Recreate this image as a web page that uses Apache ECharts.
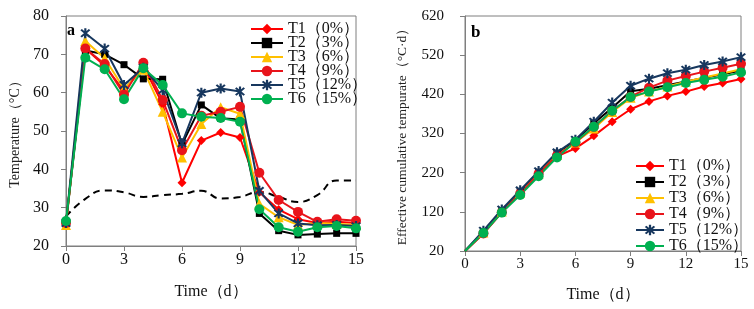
<!DOCTYPE html>
<html>
<head>
<meta charset="utf-8">
<script src="https://cdn.jsdelivr.net/npm/echarts@6/dist/echarts.min.js"></script>
<style>
  html, body { margin: 0; padding: 0; background: #fff; }
  #chart { width: 754px; height: 309px; }
</style>
</head>
<body>
<div id="chart"></div>
<script>
// days on the x axis (both panels)
const days = [0, 1, 2, 3, 4, 5, 6, 7, 8, 9, 10, 11, 12, 13, 14, 15]
const seriesNames = ['T1（0%）', 'T2（3%）', 'T3（6%）', 'T4（9%）', 'T5（12%）', 'T6（15%）']

// panel a: pile temperature (°C)
const tempT1 = [26, 71.5, 67, 60.5, 67, 57, 36.5, 47.5, 49.6, 48.3, 34, 29.5, 27, 26, 26.3, 26]
const tempT2 = [25.8, 71, 70, 67.3, 63.6, 63.5, 46.5, 56.8, 53.3, 53, 28.5, 24, 22.9, 23.1, 23.3, 23.3]
const tempT3 = [25.5, 73.5, 69, 61, 66, 55, 43.1, 51.8, 56.2, 54.5, 31, 27.5, 25.5, 26, 25.8, 25.5]
const tempT4 = [26, 71.5, 67.5, 59.5, 67.8, 58.1, 45, 54, 55, 56.3, 39.1, 32, 28.9, 26.3, 27, 26.6]
const tempT5 = [26, 75.5, 71.5, 62, 66.5, 60.7, 46.8, 60, 61.1, 60.3, 34.4, 28.5, 25.9, 25.4, 25.5, 25.2]
const tempT6 = [26.5, 69.1, 66.1, 58.3, 66.4, 62, 54.6, 53.7, 53.4, 52.4, 29.6, 24.9, 23.7, 24.9, 25.2, 24.6]
const ambient = [27.7, 32.3, 34.5, 34, 32.8, 33.3, 33.6, 34.4, 32.4, 32.8, 34.1, 32.8, 31.5, 33.3, 37.1, 37.1]

// panel b: effective cumulative temperature (°C·d)
const ectT1 = [20, 64, 119, 167, 216, 262, 282, 314, 350, 382, 402, 416, 427, 440, 449, 459]
const ectT2 = [20, 68, 123, 172, 221, 270, 302, 346, 386, 428, 434, 443, 453, 462, 471, 481]
const ectT3 = [20, 67, 121, 169, 218, 265, 297, 333, 375, 411, 427, 440, 452, 463, 473, 484]
const ectT4 = [20, 65, 119, 167, 217, 264, 297, 337, 378, 414, 437, 455, 467, 478, 488, 498]
const ectT5 = [20, 72, 126, 175, 224, 272, 304, 350, 399, 442, 460, 474, 483, 495, 504, 515]
const ectT6 = [20, 66, 118, 163, 211, 259, 299, 337, 378, 413, 427, 438, 449, 457, 465, 476]

const tempData = [tempT1, tempT2, tempT3, tempT4, tempT5, tempT6]
const ectData = [ectT1, ectT2, ectT3, ectT4, ectT5, ectT6]

// asterisk marker (Excel "star")
const asterisk = 'path://M4.1,0L5.9,0L5.9,10L4.1,10Z M0.82,2.1L2.1,0.82L9.18,7.9L7.9,9.18Z M9.18,2.1L2.1,9.18L0.82,7.9L7.9,0.82Z'
const styles = [
  { color: '#FF0000', symbol: 'diamond', size: 9 },
  { color: '#000000', symbol: 'rect', size: 7 },
  { color: '#FFC000', symbol: 'triangle', size: 10 },
  { color: '#E8141B', symbol: 'circle', size: 10 },
  { color: '#17375E', symbol: asterisk, size: 10 },
  { color: '#00B050', symbol: 'circle', size: 10 }
]

const serif = '"Liberation Serif", "Times New Roman", serif'
const axisGray = '#7f7f7f'

function xAxisFor(gridIndex, fontSize, nameGap) {
  return {
    type: 'value', gridIndex, min: 0, max: 15, interval: 3,
    name: 'Time（d）', nameLocation: 'middle', nameGap,
    nameTextStyle: { fontFamily: serif, fontSize: 16, color: '#111' },
    axisLine: { lineStyle: { color: axisGray } },
    axisTick: { length: 5, lineStyle: { color: axisGray } },
    axisLabel: { fontFamily: serif, fontSize, color: '#111', margin: 6 },
    splitLine: { show: false }
  }
}

function lineSeries(i, gridIndex, values, hideFirst) {
  const st = styles[i]
  return {
    type: 'line', name: seriesNames[i],
    xAxisIndex: gridIndex, yAxisIndex: gridIndex,
    data: values.map((v, k) => (hideFirst && k === 0)
      ? { value: [days[k], v], symbol: 'none' }
      : [days[k], v]),
    symbol: st.symbol, symbolSize: st.size, showAllSymbol: true,
    lineStyle: { color: st.color, width: 2 },
    itemStyle: { color: st.color, borderWidth: 0 },
    animation: false
  }
}

const chart = echarts.init(document.getElementById('chart'), null, { renderer: 'canvas' })

const option = {
  backgroundColor: '#fff',
  animation: false,
  grid: [
    { left: 66, top: 16, width: 290, height: 230, show: true, borderColor: axisGray, borderWidth: 1 },
    { left: 465, top: 16, width: 276, height: 235, show: true, borderColor: axisGray, borderWidth: 1 }
  ],
  xAxis: [xAxisFor(0, 16, 38), xAxisFor(1, 15, 36)],
  yAxis: [
    {
      type: 'value', gridIndex: 0, min: 20, max: 80, interval: 10,
      name: 'Temperature（°C）', nameLocation: 'middle', nameGap: 44,
      nameTextStyle: { fontFamily: serif, fontSize: 14, color: '#222' },
      axisLine: { show: true, lineStyle: { color: axisGray } },
      axisTick: { show: true, length: 5, lineStyle: { color: axisGray } },
      axisLabel: { fontFamily: serif, fontSize: 16, color: '#111', margin: 17 },
      splitLine: { show: false }
    },
    {
      type: 'value', gridIndex: 1, min: 20, max: 620, interval: 100,
      name: 'Effective cumulative tempurate（°C·d）', nameLocation: 'middle', nameGap: 56,
      nameTextStyle: { fontFamily: serif, fontSize: 13.5, color: '#222' },
      axisLine: { show: true, lineStyle: { color: axisGray } },
      axisTick: { show: true, length: 5, lineStyle: { color: axisGray } },
      axisLabel: { fontFamily: serif, fontSize: 15, color: '#111', margin: 21 },
      splitLine: { show: false }
    }
  ],
  legend: [
    {
      data: seriesNames, orient: 'vertical', left: 245, top: 16,
      itemWidth: 32, itemHeight: 13, itemGap: -2,
      textStyle: { fontFamily: serif, fontSize: 16, color: '#111', lineHeight: 14 }
    },
    {
      data: seriesNames, orient: 'vertical', left: 630, top: 153,
      itemWidth: 28, itemHeight: 13, itemGap: 0,
      textStyle: { fontFamily: serif, fontSize: 16, color: '#111', lineHeight: 15.6 }
    }
  ],
  graphic: [
    { type: 'text', left: 67, top: 23, style: { text: 'a', font: 'bold 16px ' + serif, fill: '#000' } },
    { type: 'text', left: 471, top: 24, style: { text: 'b', font: 'bold 17px ' + serif, fill: '#000' } }
  ],
  series: [
    {
      type: 'line', name: 'ambient', xAxisIndex: 0, yAxisIndex: 0,
      data: ambient.map((v, k) => [days[k], v]),
      smooth: 0.5, symbol: 'none',
      lineStyle: { color: '#000', width: 2, type: [7, 5] },
      animation: false
    },
    ...tempData.map((vals, i) => lineSeries(i, 0, vals, false)),
    ...ectData.map((vals, i) => lineSeries(i, 1, vals, true))
  ]
}

chart.setOption(option)
</script>
</body>
</html>
